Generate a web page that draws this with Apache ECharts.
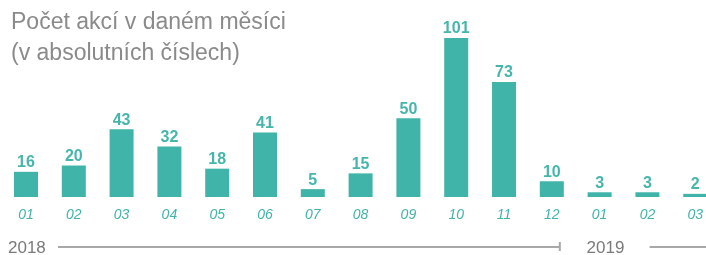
<!DOCTYPE html>
<html>
<head>
<meta charset="utf-8">
<script src="https://cdn.jsdelivr.net/npm/echarts@6/dist/echarts.min.js"></script>
<style>
  html, body { margin: 0; padding: 0; background: #fff; }
  #chart { width: 706px; height: 255px; }
</style>
</head>
<body>
<div id="chart"></div>
<script>
// měsíce a počty akcí
const months = ['01', '02', '03', '04', '05', '06', '07', '08', '09', '10', '11', '12', '01', '02', '03'];
const counts = [16, 20, 43, 32, 18, 41, 5, 15, 50, 101, 73, 10, 3, 3, 2];
// roky: popisek, první a poslední index měsíce
const years = ['2018', '2019'];
const yearFirst = [0, 12];
const yearLast = [11, 14];

const teal = '#41b4a9';
const font = '"Liberation Sans", Arial, sans-serif';

const chart = echarts.init(document.getElementById('chart'));
chart.setOption({
  animation: false,
  title: {
    text: 'Počet akcí v daném měsíci\n(v absolutních číslech)',
    left: 6,
    top: 2,
    textStyle: { color: '#8a8a8a', fontSize: 23, fontWeight: 'normal', fontFamily: font, lineHeight: 31 }
  },
  grid: { left: 26, right: 10, top: 38, bottom: 58 },
  xAxis: {
    type: 'category',
    data: months,
    boundaryGap: false,
    axisLine: { show: false },
    axisTick: { show: false },
    axisLabel: { color: teal, fontSize: 14, fontStyle: 'italic', fontFamily: font, margin: 11, interval: 0 }
  },
  yAxis: { type: 'value', min: 0, max: 101, show: false, splitLine: { show: false } },
  series: [{
    type: 'bar',
    data: counts,
    barWidth: 24,
    clip: false,
    itemStyle: { color: teal },
    label: {
      show: true,
      position: 'top',
      distance: 1,
      color: '#46b6ab',
      fontSize: 16,
      fontWeight: 'bold',
      fontFamily: font
    }
  }]
});

// časová osa s roky pod grafem
const px = i => chart.convertToPixel({ xAxisIndex: 0 }, i);
const lineStyle = { stroke: '#a8a8a8', lineWidth: 2 };
const yearText = (text, x) => ({
  type: 'text',
  style: { text, x, y: 248, fill: '#7a7a7a', font: '17px ' + font, align: 'left', verticalAlign: 'middle' }
});
const els = [];
// 2018
els.push(yearText(years[0], px(yearFirst[0]) - 18));
els.push({ type: 'line', shape: { x1: 58, y1: 247, x2: px(yearLast[0]) + 8, y2: 247 }, style: lineStyle });
els.push({ type: 'line', shape: { x1: px(yearLast[0]) + 8, y1: 242, x2: px(yearLast[0]) + 8, y2: 251 }, style: lineStyle });
// 2019
els.push(yearText(years[1], px(yearFirst[1]) - 13));
els.push({ type: 'line', shape: { x1: px(yearFirst[1]) + 50, y1: 247, x2: chart.getWidth(), y2: 247 }, style: lineStyle });
chart.setOption({ graphic: els });
</script>
</body>
</html>
